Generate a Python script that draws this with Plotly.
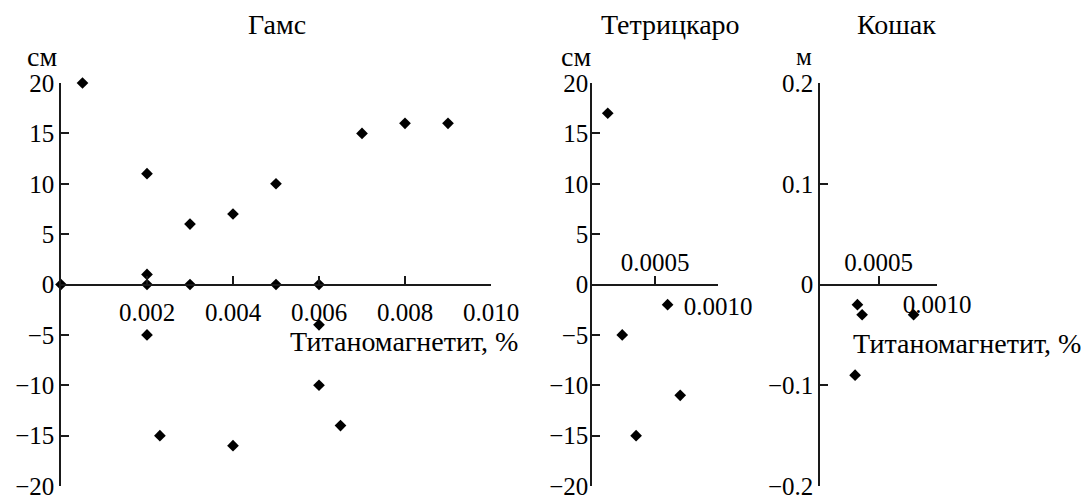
import plotly.graph_objects as go

# ---- data ----
gams_x = [0, 0.0005, 0.002, 0.002, 0.002, 0.002, 0.0023, 0.003, 0.003, 0.004, 0.004,
          0.005, 0.005, 0.006, 0.006, 0.006, 0.0065, 0.007, 0.008, 0.009]
gams_y = [0, 20, 11, 1, 0, -5, -15, 6, 0, 7, -16, 10, 0, 0, -4, -10, -14, 15, 16, 16]

tetri_x = [0.000125, 0.00024, 0.00035, 0.0006, 0.0007]
tetri_y = [17, -5, -15, -2, -11]

koshak_x = [0.0003, 0.00032, 0.00036, 0.0008]
koshak_y = [-0.09, -0.02, -0.03, -0.03]

titles = ["Гамс", "Тетрицкаро", "Кошак"]
units = ["см", "см", "м"]
x_title = "Титаномагнетит, %"

cm_ticks = [-20, -15, -10, -5, 0, 5, 10, 15, 20]
m_ticks = [-0.2, -0.1, 0, 0.1, 0.2]
gams_xticks = [0.002, 0.004, 0.006, 0.008, 0.010]
small_xticks = [0.0005, 0.0010]

# ---- layout helpers ----
W, H = 1082, 495
FONT = "Liberation Serif, Times New Roman, DejaVu Serif, serif"
FS = 25      # tick labels
FT = 28      # cyrillic texts
LINE = "#1a1a1a"


def px(x):
    return x / W


def py(y):
    return 1 - y / H


ydom = [py(486), py(83)]
yzero = (ydom[0] + ydom[1]) / 2
xdoms = [[px(61), px(491)], [px(592), px(718)], [px(820), px(937)]]

fig = go.Figure()
mk = dict(symbol="diamond", size=9, color="black")
fig.add_trace(go.Scatter(x=gams_x, y=gams_y, mode="markers", marker=mk,
                         xaxis="x", yaxis="y", cliponaxis=False))
fig.add_trace(go.Scatter(x=tetri_x, y=tetri_y, mode="markers", marker=mk,
                         xaxis="x2", yaxis="y2", cliponaxis=False))
fig.add_trace(go.Scatter(x=koshak_x, y=koshak_y, mode="markers", marker=mk,
                         xaxis="x3", yaxis="y3", cliponaxis=False))

tf = dict(family=FONT, size=FS, color="black")
common = dict(showgrid=False, zeroline=False, showline=True, linecolor=LINE,
              linewidth=1.5, ticks="inside", ticklen=8, tickwidth=1.5,
              tickcolor=LINE, tickfont=tf, automargin=False,
              ticklabeloverflow="allow")
overlay = dict(showgrid=False, zeroline=False, showline=False, ticks="",
               tickfont=tf, automargin=False, side="top", anchor="free",
               position=yzero, range=[0, 0.001], ticklabelstandoff=9,
               ticklabeloverflow="allow")

fig.update_layout(
    template="none",
    width=W, height=H, margin=dict(l=0, r=0, t=0, b=0, autoexpand=False),
    plot_bgcolor="white", paper_bgcolor="white", showlegend=False,
    font=dict(family=FONT, size=FS, color="black"),
    xaxis=dict(domain=xdoms[0], range=[0, 0.010], anchor="free", position=yzero,
               tickvals=gams_xticks, tickformat=".3f", ticklabelstandoff=6, **common),
    yaxis=dict(domain=ydom, range=[-20, 20], anchor="x", tickvals=cm_ticks,
               ticklabelstandoff=0, **common),
    xaxis2=dict(domain=xdoms[1], range=[0, 0.001], anchor="free", position=yzero,
                tickvals=small_xticks, ticktext=["", "0.0010"], ticklabelstandoff=0,
                **common),
    xaxis4=dict(domain=xdoms[1], overlaying="x2", tickvals=[small_xticks[0]],
                ticktext=["0.0005"], **overlay),
    yaxis2=dict(domain=ydom, range=[-20, 20], anchor="x2", tickvals=cm_ticks,
                ticklabelstandoff=-3, **common),
    xaxis3=dict(domain=xdoms[2], range=[0, 0.001], anchor="free", position=yzero,
                tickvals=small_xticks, ticktext=["", "0.0010"], ticklabelstandoff=-2,
                **common),
    xaxis5=dict(domain=xdoms[2], overlaying="x3", tickvals=[small_xticks[0]],
                ticktext=["0.0005"], **overlay),
    yaxis3=dict(domain=ydom, range=[-0.2, 0.2], anchor="x3", tickvals=m_ticks,
                ticklabelstandoff=0, **common),
)

# empty traces so the overlay label axes are drawn
fig.add_trace(go.Scatter(x=[None], y=[None], xaxis="x4", yaxis="y2", showlegend=False))
fig.add_trace(go.Scatter(x=[None], y=[None], xaxis="x5", yaxis="y3", showlegend=False))

ann = []
for t, xc in zip(titles, [277, 670, 897]):
    ann.append(dict(text=t, x=px(xc), y=py(25), xref="paper", yref="paper",
                    showarrow=False, xanchor="center", yanchor="middle",
                    font=dict(family=FONT, size=FT)))
for u, xc, fs in zip(units, [42, 576, 804], [FT, FT, FS]):
    ann.append(dict(text=u, x=px(xc), y=py(57), xref="paper", yref="paper",
                    showarrow=False, xanchor="center", yanchor="middle",
                    font=dict(family=FONT, size=fs)))
for xl, yc in [(288, 341), (851, 343)]:
    ann.append(dict(text=x_title, x=px(xl), y=py(yc), xref="paper", yref="paper",
                    showarrow=False, xanchor="left", yanchor="middle",
                    font=dict(family=FONT, size=FT)))
fig.update_layout(annotations=ann)

fig.write_html("out.html")
